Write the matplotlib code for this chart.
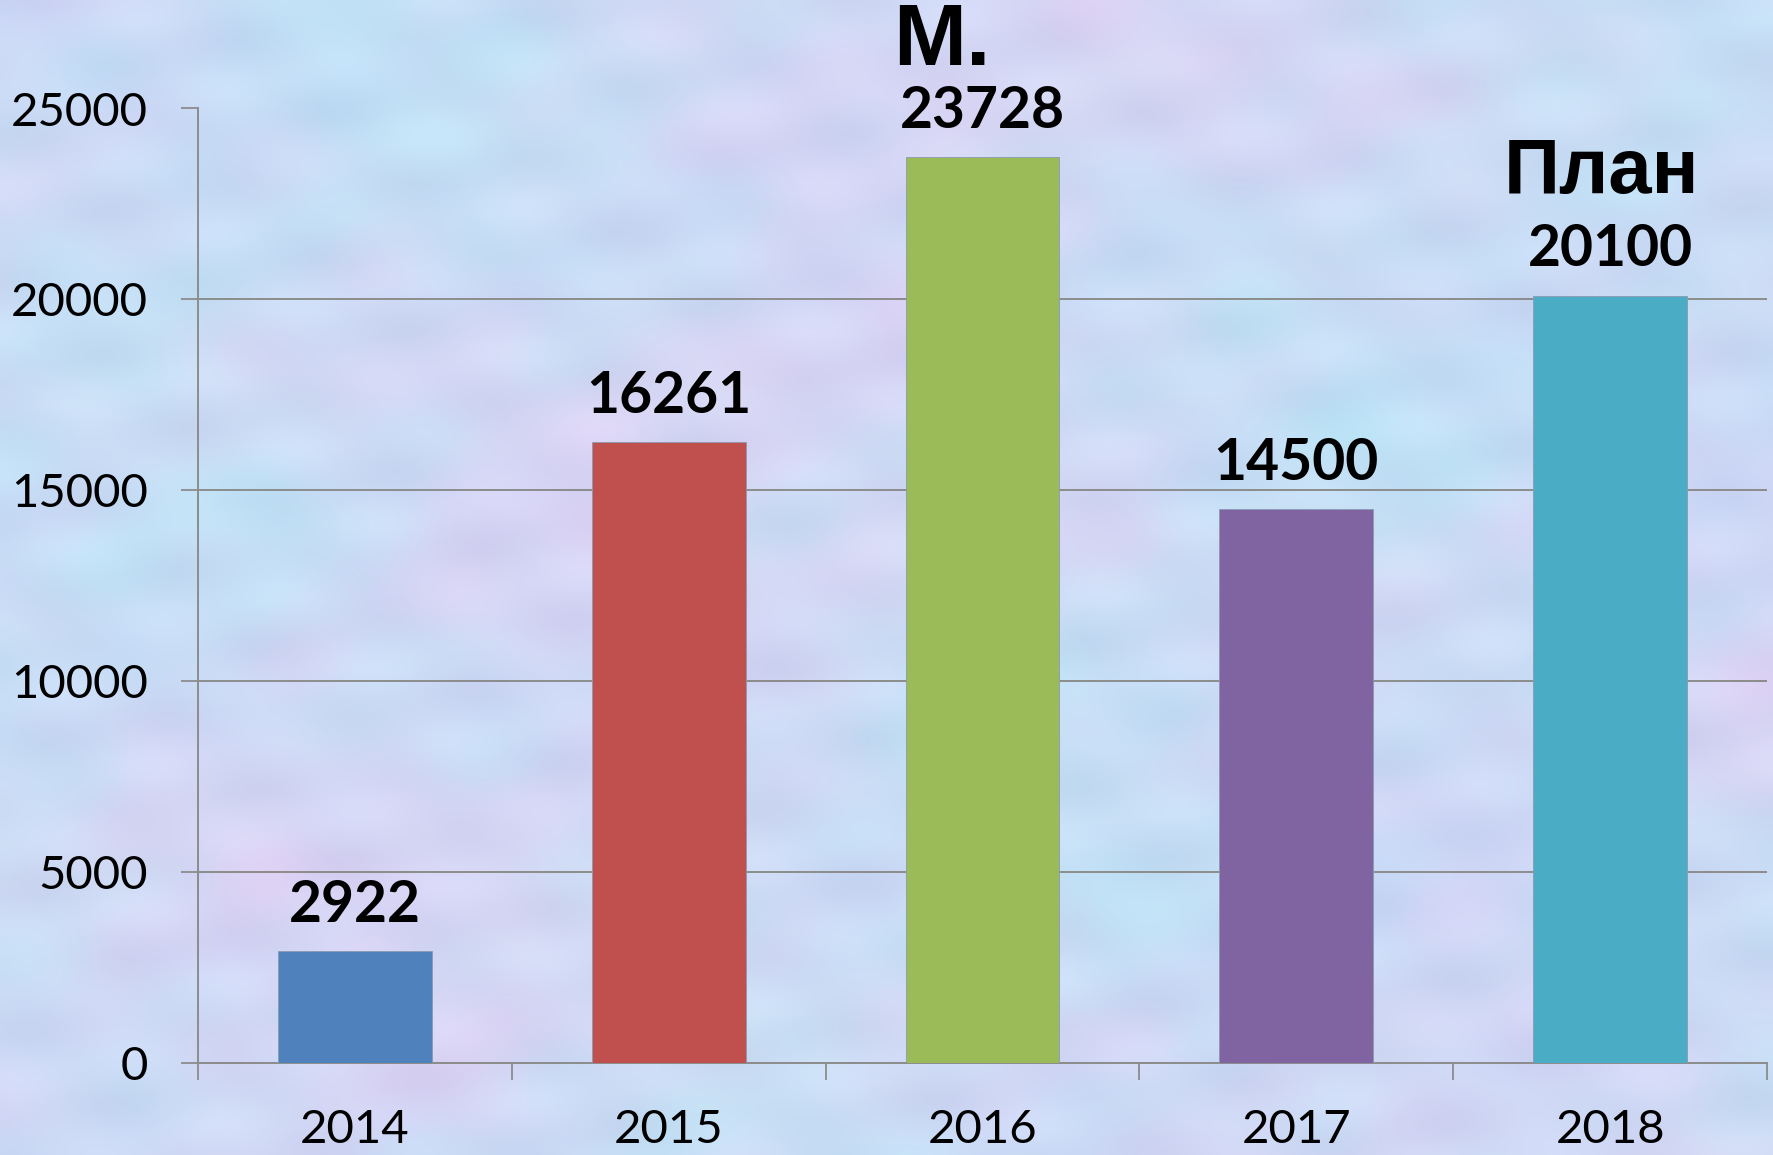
import numpy as np
import matplotlib
matplotlib.use("Agg")
import matplotlib.pyplot as plt
from matplotlib.ticker import FixedLocator, NullFormatter

# ---- data ----
years = ["2014", "2015", "2016", "2017", "2018"]
values = [2922, 16261, 23728, 14500, 20100]
bar_colors = ["#4F81BD", "#C0504D", "#9BBB59", "#8064A2", "#4BACC6"]
y_ticks = [0, 5000, 10000, 15000, 20000, 25000]
y_tick_labels = ["0", "5000", "10000", "15000", "20000", "25000"]
note_2016 = "М."
note_2018 = "План"

W, H, DPI = 1773, 1155, 100
fig = plt.figure(figsize=(W / DPI, H / DPI), dpi=DPI)

# ---- mottled pale background (deterministic texture) ----
ny, nx = 160, 240
yy, xx = np.mgrid[0:ny, 0:nx]
xx = xx / nx
yy = yy / ny
a = (np.sin(7.3 * xx + 3.1 * yy + 0.4) + np.sin(13.7 * yy - 5.2 * xx + 1.3)
     + 0.6 * np.sin(23.1 * xx + 17.9 * yy + 2.2) + 0.5 * np.sin(31.7 * yy + 2.9 * xx)
     + 0.4 * np.sin(47.3 * xx - 29.1 * yy + 0.9) + 0.35 * np.sin(61.7 * yy + 37.3 * xx + 1.7)
     + 0.3 * np.sin(83.9 * xx + 11.3 * yy + 2.9))
b = (np.sin(5.1 * yy + 9.7 * xx + 2.0) + 0.7 * np.sin(19.3 * xx - 11.1 * yy + 0.7)
     + 0.5 * np.sin(27.3 * yy + 21.1 * xx + 1.9) + 0.35 * np.sin(53.1 * xx + 41.7 * yy + 0.3)
     + 0.3 * np.sin(71.3 * yy - 23.9 * xx + 2.4))
c = (np.sin(41.3 * xx + 57.1 * yy + 1.1) + np.sin(67.7 * xx - 49.3 * yy + 0.2)
     + 0.8 * np.sin(97.1 * yy + 13.7 * xx + 2.6))
a = a / np.abs(a).max()
b = b / np.abs(b).max()
c = c / np.abs(c).max()
base = np.array([205, 218, 245]) / 255.0
blue_dir = np.array([-9, 3, 1]) / 255.0
pink_dir = np.array([9, -7, 0]) / 255.0
dark_dir = np.array([-8, -8, -6]) / 255.0
tex = (base[None, None, :] + a[..., None] * blue_dir * 1.3
       + b[..., None] * pink_dir * 1.0 + c[..., None] * dark_dir * 0.8)
tex = np.clip(tex, 0, 1)
bg = fig.add_axes([0, 0, 1, 1], zorder=-10)
bg.imshow(tex, aspect="auto", interpolation="bicubic", extent=[0, 1, 0, 1])
bg.axis("off")

# ---- main axes ----
left, right = 198 / W, 1767 / W
bottom, top = 1 - 1063 / H, 1 - 108.5 / H
ax = fig.add_axes([left, bottom, right - left, top - bottom])
ax.patch.set_alpha(0)

x = np.arange(len(years))
bars = ax.bar(x, values, width=0.49, color=bar_colors, edgecolor="#8a9ab0",
              linewidth=0.6, zorder=3)

ax.set_xlim(-0.5, len(years) - 0.5)
ax.set_ylim(0, 25000)

grid_col = "#8c8c8c"
ax.set_yticks(y_ticks)
ax.set_yticklabels(y_tick_labels)
ax.yaxis.grid(True, color=grid_col, linewidth=1.4, zorder=0)
ax.set_axisbelow(True)

ax.set_xticks(x)
ax.set_xticklabels(years)
ax.xaxis.set_minor_locator(FixedLocator(np.arange(-0.5, len(years), 1.0)))
ax.xaxis.set_minor_formatter(NullFormatter())

font_main = ["Lato", "DejaVu Sans"]
ax.tick_params(axis="y", which="major", length=12, width=1.3, color=grid_col,
               pad=24, labelsize=34, direction="out")
ax.tick_params(axis="x", which="major", length=0, pad=33, labelsize=34)
ax.tick_params(axis="x", which="minor", length=12, width=1.3, color=grid_col,
               direction="out")
for lab in ax.get_xticklabels() + ax.get_yticklabels():
    lab.set_fontfamily(font_main)

for side in ["top", "right"]:
    ax.spines[side].set_visible(False)
for side in ["left", "bottom"]:
    ax.spines[side].set_color(grid_col)
    ax.spines[side].set_linewidth(1.4)

# value labels
for xi, v in zip(x, values):
    ax.annotate(f"{v}", xy=(xi, v), xytext=(0, 21), textcoords="offset points",
                ha="center", va="baseline", fontsize=41, fontweight="bold",
                fontfamily=font_main, color="black", zorder=5)

# notes
note_font = ["Liberation Sans Narrow", "Liberation Sans", "DejaVu Sans"]
ax.annotate(note_2016, xy=(2, values[2]), xytext=(-64, 66), textcoords="offset points",
            ha="left", va="baseline", fontsize=63, fontweight="bold",
            fontfamily=note_font, color="black", annotation_clip=False)
ax.annotate(note_2018, xy=(4, values[4]), xytext=(-6, 74), textcoords="offset points",
            ha="center", va="baseline", fontsize=56, fontweight="bold",
            fontfamily=note_font, color="black", annotation_clip=False)

fig.savefig("out.png", dpi=DPI)
